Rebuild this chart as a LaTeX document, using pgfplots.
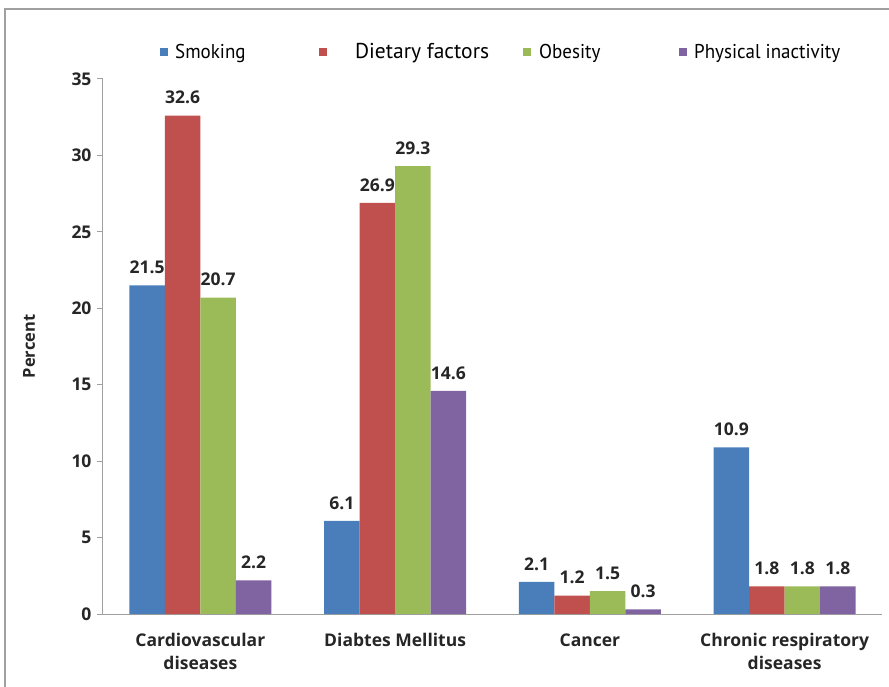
\documentclass[border=0pt]{standalone}
\usepackage{fontspec}
\setmainfont{Open Sans}
\newfontfamily\legfont[FakeStretch=0.95]{PT Sans}
\newfontfamily\legfontb{PT Sans}
\usepackage{pgfplots}
\pgfplotsset{compat=1.18}
\definecolor{cblue}{HTML}{4A7EBB}
\definecolor{cred}{HTML}{C0504D}
\definecolor{cgreen}{HTML}{9BBB59}
\definecolor{cpurple}{HTML}{8064A2}
\definecolor{axgray}{HTML}{A0A0A0}
\begin{document}
\begin{tikzpicture}
\path[use as bounding box] (-103bp,-73bp) rectangle (786bp,614bp);
\draw[axgray, line width=1.2bp] (-98bp,-73bp) -- (-98bp,605bp) -- (786bp,605bp);
\begin{axis}[
  at={(0,0)}, anchor=south west,
  scale only axis, width=779bp, height=535bp,
  xmin=-0.5, xmax=3.5, ymin=0, ymax=35,
  ytick={0,5,...,35},
  xtick={0,1,2,3},
  xticklabels={Cardiovascular\\diseases, Diabtes Mellitus, Cancer, Chronic respiratory\\diseases},
  axis lines=left, axis line style={axgray, line width=1bp, -},
  axis x line*=bottom,
  tick style={axgray, line width=1bp},
  major tick length=6bp,
  tick align=outside,
  major x tick style={draw=none},
  /pgf/number format/assume math mode=true,
  ticklabel style={font=\fontsize{17.5bp}{23bp}\selectfont\bfseries, text=black!85},
  xticklabel style={align=center, yshift=-10bp},
  yticklabel style={xshift=-2bp},
  ylabel={Percent},
  ylabel style={font=\fontsize{16.5bp}{18bp}\selectfont\bfseries, text=black!85, at={(axis description cs:-0.095,0.5)}, anchor=center},
  ybar=0pt, bar width=35.5bp,
  nodes near coords,
  nodes near coords style={font=\fontsize{17.5bp}{19bp}\selectfont\bfseries, text=black!85, yshift=8bp, /pgf/number format/.cd, fixed, fixed zerofill, precision=1},
  legend columns=4,
  legend style={draw=none, fill=none, at={(57bp,562bp)}, anchor=west,
    font=\fontsize{20bp}{22bp}\selectfont\legfont, inner sep=0pt,
    /tikz/every even column/.append style={column sep=0pt}},
  legend image code/.code={\fill (0bp,-4bp) rectangle (8bp,4bp);},
]
\addplot[fill=cblue, draw=none] coordinates {(0,21.5) (1,6.1) (2,2.1) (3,10.9)};
\addplot[fill=cred, draw=none] coordinates {(0,32.6) (1,26.9) (2,1.2) (3,1.8)};
\addplot[fill=cgreen, draw=none] coordinates {(0,20.7) (1,29.3) (2,1.5) (3,1.8)};
\addplot[fill=cpurple, draw=none] coordinates {(0,2.2) (1,14.6) (2,0.3) (3,1.8)};
\legend{\makebox[147bp][l]{\hspace{5bp}Smoking}, \makebox[192bp][l]{\hspace{26bp}{\legfontb\fontsize{21.5bp}{23bp}\selectfont Dietary factors}}, \makebox[144bp][l]{\hspace{6bp}Obesity}, \makebox[160bp][l]{\hspace{5bp}Physical inactivity}}
\end{axis}
\end{tikzpicture}
\end{document}
